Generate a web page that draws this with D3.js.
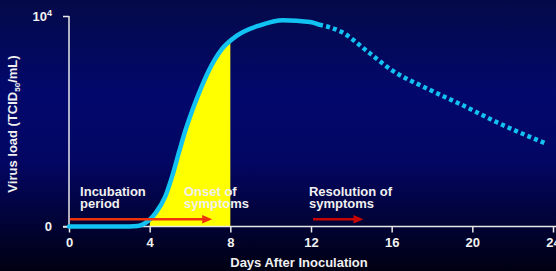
<!DOCTYPE html>
<html>
<head>
<meta charset="utf-8">
<script src="https://cdn.jsdelivr.net/npm/d3@7"></script>
<style>
  body { margin: 0; background: #000; }
  svg { display: block; font-family: "Liberation Sans", Arial, sans-serif; font-weight: bold; }
</style>
</head>
<body>
<svg id="chart" width="556" height="271"></svg>
<script>
// virus load over time
var days    = [0, 2, 3, 3.4, 3.7, 4, 4.3, 4.77, 5.11, 5.44, 5.77, 6.1, 6.43, 6.93, 7.56, 8.35, 9.47, 10.61, 11.95, 12.4];
var load    = [0, 0, 0, 20, 120, 330, 650, 1420, 2370, 3480, 4560, 5480, 6300, 7400, 8400, 9080, 9560, 9800, 9720, 9590];
var tailDays = [12.4, 13.5, 14.9, 16, 17.7, 19.5, 21.2, 23.7];
var tailLoad = [9590, 9250, 8240, 7430, 6580, 5770, 4960, 3920];
var xTicks = [0, 4, 8, 12, 16, 20, 24];
var yTicks = [0, 10000];
var symptomDays = [4, 8];
var notes = [
    {lines: ["Incubation", "period"], day: 0.55, from: 0.05, to: 7.1, color: "#f0320c"},
    {lines: ["Onset of", "symptoms"], day: 5.7},
    {lines: ["Resolution of", "symptoms"], day: 11.9, from: 12.1, to: 14.6, color: "#c80404"}
];

var svg = d3.select("#chart");
var W = 556, H = 271;

var defs = svg.append("defs");
var grad = defs.append("linearGradient")
    .attr("id", "bg").attr("x1", 0).attr("y1", 0).attr("x2", 0).attr("y2", 1);
grad.append("stop").attr("offset", "0%").attr("stop-color", "#040a48");
grad.append("stop").attr("offset", "35%").attr("stop-color", "#02086c");
grad.append("stop").attr("offset", "60%").attr("stop-color", "#030662");
grad.append("stop").attr("offset", "100%").attr("stop-color", "#000012");

svg.append("rect").attr("width", W).attr("height", H).attr("fill", "url(#bg)");

var x = d3.scaleLinear().domain([0, 24]).range([69, 553]);
var y = d3.scaleLinear().domain([0, 10000]).range([226.5, 16]);

var curve = days.map(function(d, i){ return [d, load[i]]; });
var tail = tailDays.map(function(d, i){ return [d, tailLoad[i]]; });

var line = d3.line()
    .x(function(d){ return x(d[0]); })
    .y(function(d){ return y(d[1]); })
    .curve(d3.curveMonotoneX);

// yellow area between onset markers
var fullLine = svg.append("path").attr("d", line(curve)).attr("fill", "none");
var pathNode = fullLine.node();
var len = pathNode.getTotalLength();
var pts = [];
for(var s = 0; s <= len; s += 0.5){
    var p = pathNode.getPointAtLength(s);
    if(p.x >= x(symptomDays[0]) && p.x <= x(symptomDays[1])) pts.push([p.x, p.y + 1]);
}
pts.push([x(symptomDays[1]), pts[pts.length-1][1]]);
pts.push([x(symptomDays[1]), y(0)]);
pts.push([x(symptomDays[0]), y(0)]);
svg.append("path")
    .attr("d", "M" + pts.map(function(p){ return p.join(","); }).join("L") + "Z")
    .attr("fill", "#ffff00");
fullLine.remove();

// axes
var xAxis = svg.append("g").attr("transform", "translate(0," + y(0) + ")")
    .call(d3.axisBottom(x).tickValues(xTicks).tickSize(6).tickPadding(5).tickFormat(d3.format("d")));
xAxis.select(".domain").attr("d", "M63,0H556");
var yAxis = svg.append("g").attr("transform", "translate(" + x(0) + ",0)")
    .call(d3.axisLeft(y).tickValues(yTicks).tickSize(6).tickPadding(11).tickFormat(function(d){ return d === 0 ? "0" : ""; }));
yAxis.select(".domain").attr("d", "M0," + y(10000) + "V" + y(0));

svg.selectAll(".domain, .tick line").attr("stroke", "#e8e8e8").attr("stroke-width", 1.5);
svg.selectAll(".tick text").attr("fill", "#f2f2f2").attr("font-size", 13).attr("font-weight", "bold")
    .attr("font-family", "Liberation Sans, Arial, sans-serif");

// 10^4 label
var topLabel = yAxis.append("text").attr("x", -17).attr("y", y(10000) + 4.5)
    .attr("text-anchor", "end").attr("fill", "#f2f2f2").attr("font-size", 13);
topLabel.append("tspan").text("10");
topLabel.append("tspan").attr("dy", -5).attr("font-size", 9).text("4");

// virus load curve
svg.append("path").attr("d", line(curve))
    .attr("fill", "none").attr("stroke", "#12c2f2").attr("stroke-width", 4.5).attr("stroke-linecap", "round");
svg.append("path").attr("d", line(tail))
    .attr("fill", "none").attr("stroke", "#12c2f2").attr("stroke-width", 4.5)
    .attr("stroke-dasharray", "4,3.2");

// notes and arrows
notes.forEach(function(n){
    var t = svg.append("text").attr("fill", "#f0f0f0").attr("font-size", 13);
    n.lines.forEach(function(l, i){
        t.append("tspan").attr("x", x(n.day)).attr("y", 196 + i * 11.6).text(l);
    });
    if(n.from !== undefined){
        var x1 = x(n.from), x2 = x(n.to);
        svg.append("line").attr("x1", x1).attr("x2", x2 - 8).attr("y1", 219.3).attr("y2", 219.3)
            .attr("stroke", n.color).attr("stroke-width", 2.5);
        svg.append("path").attr("d", "M" + (x2 - 10) + ",215L" + x2 + ",219.3L" + (x2 - 10) + ",223.6Z")
            .attr("fill", n.color);
    }
});

// axis titles
svg.append("text").attr("x", 299).attr("y", 267).attr("text-anchor", "middle")
    .attr("fill", "#f0f0f0").attr("font-size", 13).text("Days After Inoculation");

var yt = svg.append("text").attr("transform", "translate(17,124) rotate(-90)")
    .attr("text-anchor", "middle").attr("fill", "#f0f0f0").attr("font-size", 13);
yt.append("tspan").text("Virus load (TCID");
yt.append("tspan").attr("dy", 3).attr("font-size", 8).text("50");
yt.append("tspan").attr("dy", -3).text("/mL)");
</script>
</body>
</html>
